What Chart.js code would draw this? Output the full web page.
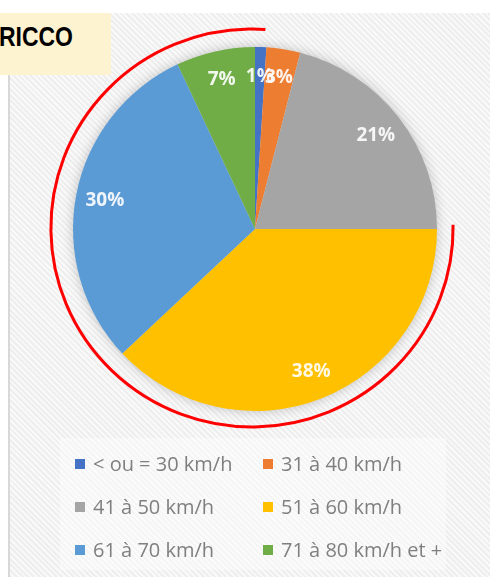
<!DOCTYPE html>
<html>
<head>
<meta charset="utf-8">
<script src="https://cdn.jsdelivr.net/npm/chart.js@4.4.1/dist/chart.umd.min.js"></script>
<style>
    html, body { margin: 0; padding: 0; background: #fff; }
    #page { position: relative; width: 490px; height: 577px; overflow: hidden; background: #fff; }
    #panel {
        position: absolute; left: 8px; top: 13px; right: 0; bottom: 0;
        border-left: 2px solid #d8d8d8;
        background: repeating-linear-gradient(45deg, #eeeeee 0 2px, #f9f9f9 2px 4px);
    }
    #tag {
        position: absolute; left: 0; top: 13px; width: 111px; height: 62px;
        background: #fdf3d0;
    }
    #tag span {
        position: absolute; left: -1px; top: 0;
        font: bold 28px "Liberation Sans", Arial, sans-serif;
        color: #000; line-height: 48px;
        transform: scaleX(0.82); transform-origin: left center;
    }
    #legendBox {
        position: absolute; left: 60px; top: 438px; width: 386px; height: 132px;
        background: rgba(255, 255, 255, 0.4);
    }
    #chart-wrapper { position: absolute; left: 0; top: 0; }
    #legend {
        position: absolute; left: 75px; top: 442px;
        display: grid; grid-template-columns: 188px 188px; grid-auto-rows: 43px;
        font: 20px "Open Sans", sans-serif; color: #7f7f7f;
    }
    #legend .item { display: flex; align-items: center; white-space: nowrap; }
    #legend .box { width: 10px; height: 10px; margin-right: 8px; flex: none; }
</style>
</head>
<body>
<div id="page">
    <div id="panel"></div>
    <div id="legendBox"></div>
    <canvas id="chart-wrapper" width="490" height="577"></canvas>
    <div id="tag"><span>RICCO</span></div>
    <div id="legend"></div>
</div>
<script>
const categories = ['< ou = 30 km/h', '31 à 40 km/h', '41 à 50 km/h', '51 à 60 km/h', '61 à 70 km/h', '71 à 80 km/h et +'];
const shares = [1, 3, 21, 38, 30, 7];
const sliceColors = ['#4472c4', '#ed7d31', '#a5a5a5', '#ffc000', '#5b9bd5', '#70ad47'];

// soft grey halo behind the pie
const haloPlugin = {
    id: 'halo',
    beforeDatasetsDraw: (chart) => {
        const arc = chart.getDatasetMeta(0).data[0];
        if (!arc) return;
        const { ctx } = chart;
        ctx.save();
        ctx.beginPath();
        ctx.arc(arc.x, arc.y, arc.outerRadius, 0, Math.PI * 2);
        ctx.fillStyle = '#dcdcdc';
        ctx.shadowColor = 'rgba(0,0,0,0.22)';
        ctx.shadowBlur = 12;
        ctx.fill();
        ctx.restore();
    }
};

// percentage labels inside the slices
const labelPlugin = {
    id: 'sliceLabels',
    afterDatasetsDraw: (chart) => {
        const { ctx } = chart;
        const meta = chart.getDatasetMeta(0);
        ctx.save();
        ctx.font = 'bold 19px "Open Sans", sans-serif';
        ctx.fillStyle = 'rgba(255,255,255,0.9)';
        ctx.textAlign = 'center';
        ctx.textBaseline = 'middle';
        meta.data.forEach((arc, i) => {
            const mid = (arc.startAngle + arc.endAngle) / 2;
            const r = arc.outerRadius * 0.84;
            ctx.fillText(shares[i] + '%', arc.x + Math.cos(mid) * r, arc.y + Math.sin(mid) * r);
        });
        ctx.restore();
    }
};

// red ring drawn around the pie
const ringPlugin = {
    id: 'redRing',
    afterDraw: (chart) => {
        const arc = chart.getDatasetMeta(0).data[0];
        if (!arc) return;
        const { ctx } = chart;
        const R = arc.outerRadius;
        ctx.save();
        ctx.beginPath();
        ctx.ellipse(arc.x - 3, arc.y - 1, R * 1.105, R * 1.093, 0, -0.016, 4.779, false);
        ctx.strokeStyle = '#ff0000';
        ctx.lineWidth = 3;
        ctx.stroke();
        ctx.restore();
    }
};

const ctx = document.getElementById('chart-wrapper');
const myChart = new Chart(ctx, {
    type: 'pie',
    data: {
        labels: categories,
        datasets: [{
            data: shares,
            backgroundColor: sliceColors,
            borderWidth: 0,
        }],
    },
    options: {
        responsive: false,
        animation: false,
        devicePixelRatio: 1,
        layout: {
            padding: { left: 73, right: 53, top: 47, bottom: 166 }
        },
        plugins: {
            legend: { display: false },
            tooltip: { enabled: false },
        },
    },
    plugins: [haloPlugin, labelPlugin, ringPlugin],
});

// legend, two columns
const legend = document.getElementById('legend');
categories.forEach((name, i) => {
    const item = document.createElement('div');
    item.className = 'item';
    const box = document.createElement('span');
    box.className = 'box';
    box.style.background = sliceColors[i];
    const text = document.createElement('span');
    text.textContent = name;
    item.appendChild(box);
    item.appendChild(text);
    legend.appendChild(item);
});
</script>
</body>
</html>
